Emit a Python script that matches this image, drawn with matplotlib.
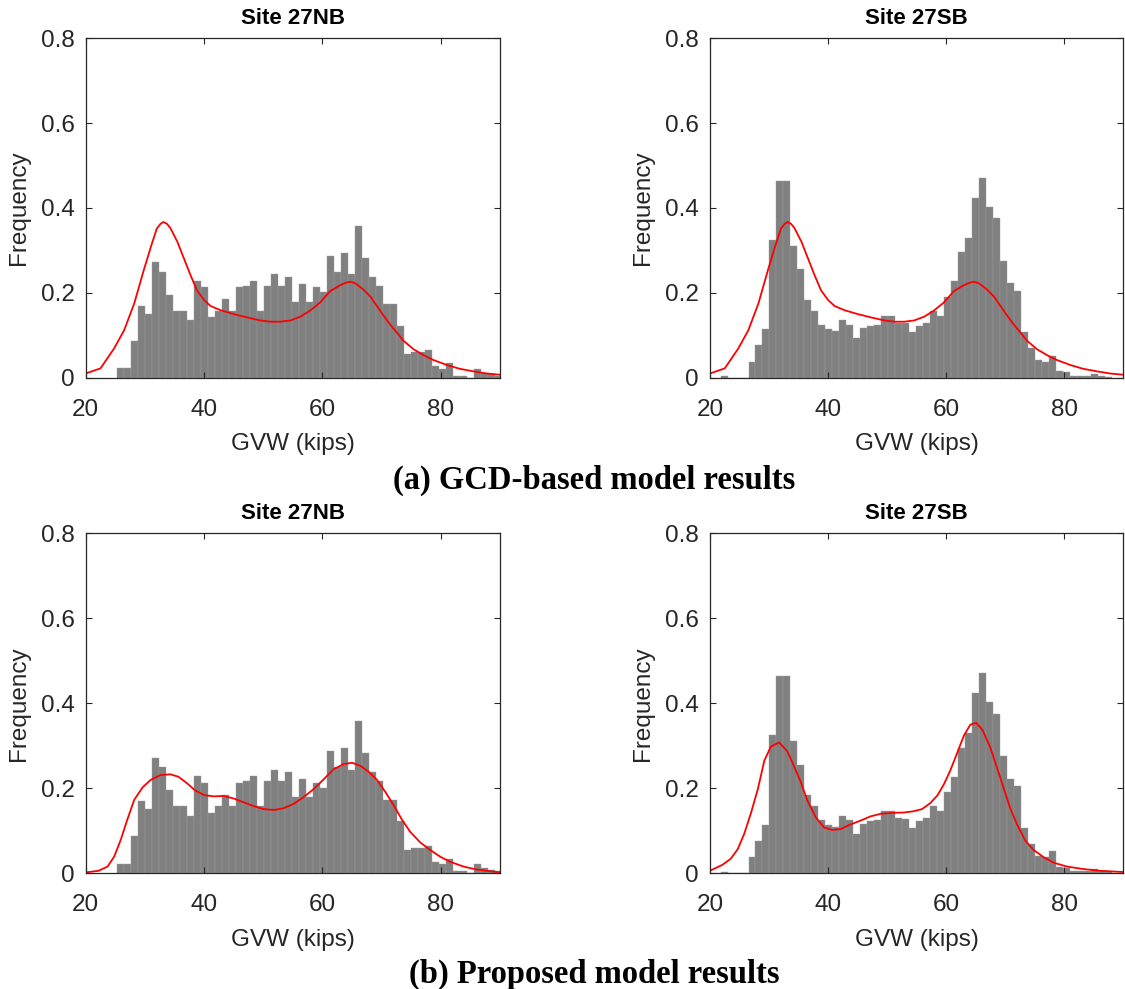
import numpy as np
import matplotlib
matplotlib.use("Agg")
import matplotlib.pyplot as plt

# histogram bins (kips)
bin_width = 1.183

# Site 27NB observed GVW frequencies, bins starting at 25.34 kips
nb_start = 25.34
nb_freq = [0.022, 0.022, 0.087, 0.169, 0.151, 0.272, 0.249, 0.195, 0.158, 0.158,
           0.136, 0.228, 0.213, 0.142, 0.158, 0.185, 0.158, 0.213, 0.217, 0.228,
           0.158, 0.217, 0.244, 0.217, 0.238, 0.179, 0.222, 0.179, 0.213, 0.201,
           0.288, 0.250, 0.294, 0.244, 0.358, 0.282, 0.238, 0.217, 0.173, 0.173,
           0.122, 0.056, 0.060, 0.060, 0.065, 0.027, 0.021, 0.034, 0.005, 0.005,
           0.000, 0.021, 0.012, 0.008, 0.005]

# Site 27SB observed GVW frequencies, bins starting at 21.79 kips
sb_start = 21.79
sb_freq = [0.004, 0.000, 0.000, 0.000,
           0.038, 0.076, 0.114, 0.325, 0.464, 0.464, 0.311, 0.256, 0.184, 0.158,
           0.125, 0.114, 0.110, 0.136, 0.125, 0.093, 0.117, 0.122, 0.125, 0.146,
           0.146, 0.129, 0.128, 0.107, 0.122, 0.130, 0.158, 0.146, 0.191, 0.227,
           0.296, 0.329, 0.424, 0.471, 0.402, 0.376, 0.275, 0.223, 0.205, 0.107,
           0.069, 0.041, 0.038, 0.052, 0.016, 0.013, 0.005, 0.005, 0.005, 0.009,
           0.005, 0.002]

# GCD-based model density
gcd_x = [20.0, 22.5, 24.8, 26.5, 28.2, 29.8, 31.0, 32.0, 32.6, 33.1, 33.7, 34.3,
         35.5, 36.6, 37.7, 38.8, 40.0, 41.1, 42.8, 45.0, 47.3, 49.5, 51.2, 52.9,
         54.6, 56.3, 57.9, 59.6, 61.3, 63.0, 64.0, 64.7, 65.3, 65.8, 66.9, 68.1,
         69.2, 70.3, 71.4, 72.6, 73.7, 75.4, 77.1, 78.7, 81.0, 83.2, 85.5, 87.7,
         90.0]
gcd_y = [0.010, 0.022, 0.069, 0.112, 0.175, 0.253, 0.308, 0.351, 0.362, 0.367,
         0.363, 0.353, 0.320, 0.281, 0.242, 0.206, 0.183, 0.169, 0.159, 0.150,
         0.142, 0.135, 0.132, 0.132, 0.135, 0.144, 0.158, 0.177, 0.204, 0.218,
         0.224, 0.226, 0.224, 0.220, 0.208, 0.191, 0.169, 0.147, 0.126, 0.106,
         0.087, 0.067, 0.053, 0.042, 0.030, 0.021, 0.015, 0.010, 0.007]

# proposed model density, Site 27NB
pnb_x = [20.0, 22.2, 23.7, 24.8, 25.9, 27.0, 28.2, 29.6, 31.0, 32.6, 34.3, 35.7,
         37.1, 38.5, 40.0, 41.6, 43.3, 45.0, 46.7, 48.4, 50.1, 51.8, 53.4, 55.1,
         56.8, 58.5, 60.2, 61.9, 63.6, 65.0, 66.4, 67.8, 69.2, 70.6, 72.0, 73.4,
         74.8, 76.5, 78.2, 79.9, 81.6, 83.8, 86.0, 88.3, 90.0]
pnb_y = [0.002, 0.006, 0.016, 0.039, 0.078, 0.125, 0.173, 0.202, 0.220, 0.231,
         0.233, 0.227, 0.212, 0.195, 0.184, 0.181, 0.182, 0.176, 0.167, 0.158,
         0.151, 0.149, 0.153, 0.163, 0.179, 0.198, 0.221, 0.245, 0.257, 0.260,
         0.253, 0.239, 0.220, 0.192, 0.161, 0.127, 0.098, 0.073, 0.055, 0.039,
         0.027, 0.016, 0.009, 0.005, 0.002]

# proposed model density, Site 27SB
psb_x = [20.0, 22.1, 23.5, 24.7, 25.8, 26.9, 28.1, 29.2, 30.3, 31.7, 33.1, 34.2,
         35.4, 36.5, 37.9, 39.3, 40.7, 42.1, 43.8, 45.5, 47.2, 48.9, 50.6, 52.8,
         54.5, 55.9, 57.3, 58.5, 59.6, 60.7, 61.8, 63.0, 64.1, 65.1, 66.2, 67.5,
         68.6, 69.7, 70.8, 72.0, 73.4, 74.8, 76.5, 78.2, 80.4, 83.2, 86.0, 90.0]
psb_y = [0.006, 0.020, 0.034, 0.057, 0.093, 0.140, 0.198, 0.265, 0.298, 0.308,
         0.287, 0.253, 0.214, 0.171, 0.132, 0.108, 0.102, 0.104, 0.115, 0.124,
         0.134, 0.140, 0.142, 0.143, 0.146, 0.151, 0.165, 0.183, 0.209, 0.242,
         0.281, 0.324, 0.350, 0.354, 0.336, 0.295, 0.249, 0.202, 0.155, 0.115,
         0.077, 0.055, 0.038, 0.025, 0.016, 0.010, 0.006, 0.003]

W, H = 1125, 989
fig = plt.figure(figsize=(W / 100, H / 100), dpi=100)

ax_color = '#262626'
plt.rcParams['font.family'] = ['Liberation Sans', 'DejaVu Sans']


def draw_panel(rect, start, freq, cx, cy, title):
    ax = fig.add_axes([rect[0] / W, 1 - rect[3] / H, (rect[2] - rect[0]) / W,
                       (rect[3] - rect[1]) / H])
    edges = start + bin_width * np.arange(len(freq))
    ax.bar(edges, freq, width=bin_width, align='edge', color='#808080',
           edgecolor='#9c9c9c', linewidth=0.3)
    ax.plot(cx, cy, color='red', linewidth=1.3)
    ax.set_xlim(20, 90)
    ax.set_ylim(0, 0.8)
    ax.set_xticks([20, 40, 60, 80])
    ax.set_yticks([0, 0.2, 0.4, 0.6, 0.8])
    ax.set_yticklabels(['0', '0.2', '0.4', '0.6', '0.8'])
    ax.tick_params(direction='in', top=True, right=True, length=4, width=0.8,
                   labelsize=17.5, colors=ax_color, pad=8)
    ax.tick_params(axis='x', pad=15)
    for s in ax.spines.values():
        s.set_color(ax_color)
        s.set_linewidth(0.9)
    ax.set_xlabel('GVW (kips)', fontsize=17.5, color=ax_color, labelpad=9)
    ax.set_ylabel('Frequency', fontsize=17.5, color=ax_color, labelpad=8)
    ax.set_title(title, fontsize=16, fontweight='bold', color='black', pad=10)
    return ax


# pixel rectangles: left, top, right, bottom
draw_panel((85.7, 38.3, 500, 377.7), nb_start, nb_freq, gcd_x, gcd_y, 'Site 27NB')
draw_panel((710, 38.3, 1123.3, 377.7), sb_start, sb_freq, gcd_x, gcd_y, 'Site 27SB')
draw_panel((85.7, 533.3, 500, 873.3), nb_start, nb_freq, pnb_x, pnb_y, 'Site 27NB')
draw_panel((710, 533.3, 1123.3, 873.3), sb_start, sb_freq, psb_x, psb_y, 'Site 27SB')

fig.text(594.5 / W, 1 - 489 / H, '(a) GCD-based model results', ha='center',
         va='baseline', fontsize=23.5, fontweight='bold', family='Liberation Serif')
fig.text(594.5 / W, 1 - 983 / H, '(b) Proposed model results', ha='center',
         va='baseline', fontsize=23.5, fontweight='bold', family='Liberation Serif')

fig.savefig('out.png', dpi=100)
